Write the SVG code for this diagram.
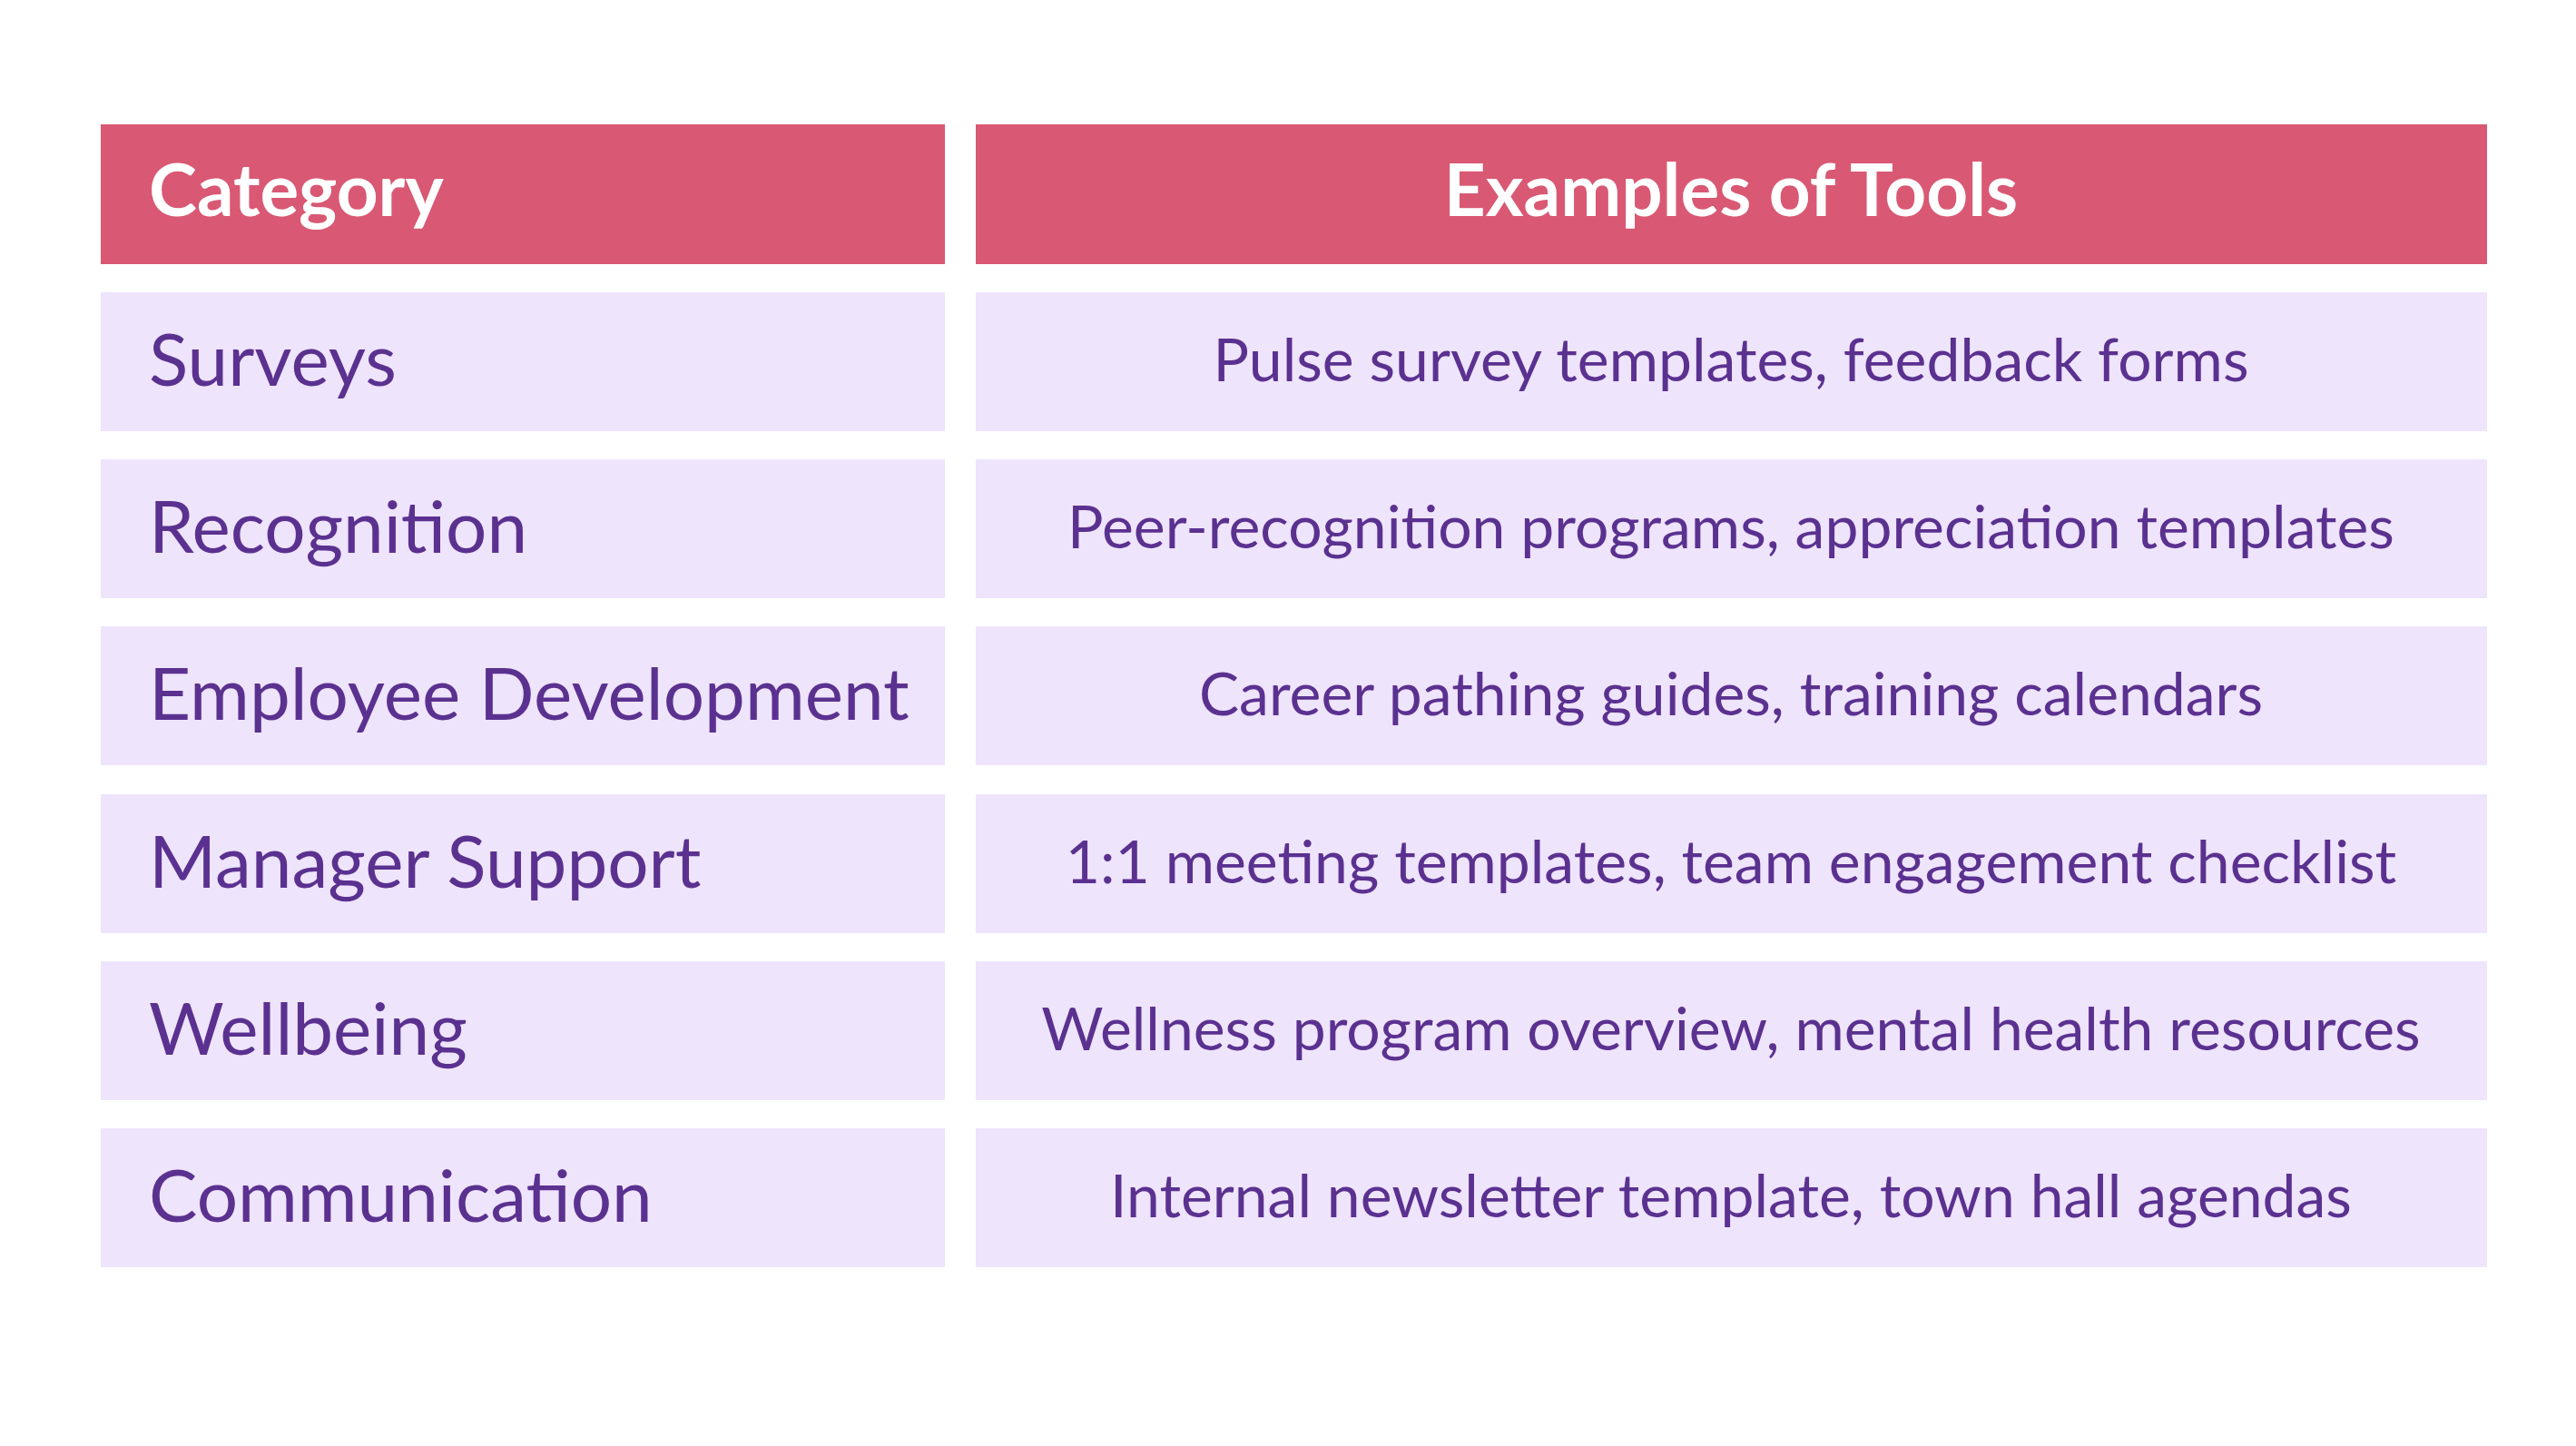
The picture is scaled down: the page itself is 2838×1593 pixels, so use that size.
<svg xmlns="http://www.w3.org/2000/svg" width="2838" height="1593" viewBox="0 0 2838 1593">
<style>
.h{fill:#D95873}.c{fill:#EEE4FC}
text{font-family:Lato,"Liberation Sans",sans-serif}
.ht{fill:#fff;font-weight:bold;font-size:80px}
.t1{fill:#5B3190;font-size:80px}
.t2{fill:#5B3190;font-size:66px;text-anchor:middle}
</style>
<rect width="2838" height="1593" fill="#fff"/>
<g id="header">
<rect class="h" x="111" y="137" width="930" height="154"/>
<rect class="h" x="1075" y="137" width="1665" height="154"/>
<text class="ht" x="164" y="238">Category</text>
<text class="ht" x="1907" y="238" text-anchor="middle">Examples of Tools</text>
</g>
<g id="row1"><rect class="c" x="111" y="322" width="930" height="153"/><rect class="c" x="1075" y="322" width="1665" height="153"/>
<text class="t1" x="164" y="425">Surveys</text><text class="t2" x="1907" y="420">Pulse survey templates, feedback forms</text></g>
<g id="row2"><rect class="c" x="111" y="506" width="930" height="153"/><rect class="c" x="1075" y="506" width="1665" height="153"/>
<text class="t1" x="164" y="609">Recognition</text><text class="t2" x="1907" y="604">Peer-recognition programs, appreciation templates</text></g>
<g id="row3"><rect class="c" x="111" y="690" width="930" height="153"/><rect class="c" x="1075" y="690" width="1665" height="153"/>
<text class="t1" x="164" y="793">Employee Development</text><text class="t2" x="1907" y="788">Career pathing guides, training calendars</text></g>
<g id="row4"><rect class="c" x="111" y="875" width="930" height="153"/><rect class="c" x="1075" y="875" width="1665" height="153"/>
<text class="t1" x="164" y="978">Manager Support</text><text class="t2" x="1907" y="973">1:1 meeting templates, team engagement checklist</text></g>
<g id="row5"><rect class="c" x="111" y="1059" width="930" height="153"/><rect class="c" x="1075" y="1059" width="1665" height="153"/>
<text class="t1" x="164" y="1162">Wellbeing</text><text class="t2" x="1907" y="1157">Wellness program overview, mental health resources</text></g>
<g id="row6"><rect class="c" x="111" y="1243" width="930" height="153"/><rect class="c" x="1075" y="1243" width="1665" height="153"/>
<text class="t1" x="164" y="1346">Communication</text><text class="t2" x="1907" y="1341">Internal newsletter template, town hall agendas</text></g>
</svg>
